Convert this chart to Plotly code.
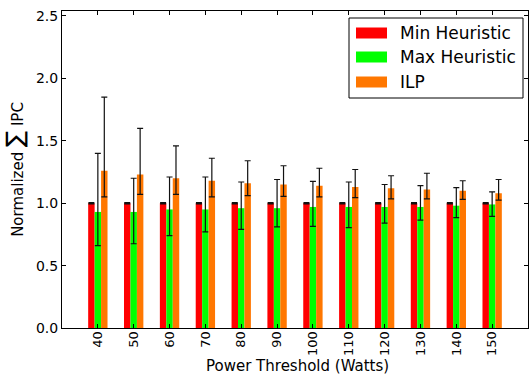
import plotly.graph_objects as go

# Power thresholds (Watts)
thresholds = [40, 50, 60, 70, 80, 90, 100, 110, 120, 130, 140, 150]

# Normalized sum of IPC per policy, with upper / lower error bounds
min_vals = [1.0, 1.0, 1.0, 1.0, 1.0, 1.0, 1.0, 1.0, 1.0, 1.0, 1.0, 1.0]
min_err = [0.005, 0.005, 0.005, 0.005, 0.005, 0.005, 0.005, 0.005, 0.005, 0.005, 0.005, 0.005]

max_vals = [0.93, 0.93, 0.95, 0.95, 0.96, 0.96, 0.97, 0.97, 0.97, 0.97, 0.98, 0.99]
max_hi = [1.40, 1.20, 1.21, 1.21, 1.17, 1.19, 1.175, 1.17, 1.15, 1.14, 1.125, 1.09]
max_lo = [0.66, 0.675, 0.74, 0.77, 0.79, 0.81, 0.815, 0.805, 0.84, 0.865, 0.885, 0.895]

ilp_vals = [1.26, 1.23, 1.20, 1.18, 1.16, 1.15, 1.14, 1.13, 1.12, 1.11, 1.10, 1.08]
ilp_hi = [1.85, 1.60, 1.46, 1.36, 1.34, 1.30, 1.28, 1.27, 1.22, 1.24, 1.18, 1.19]
ilp_lo = [1.05, 1.07, 1.07, 1.05, 1.06, 1.055, 1.05, 1.045, 1.035, 1.035, 1.03, 1.025]

series_names = ["Min Heuristic", "Max Heuristic", "ILP"]
series_colors = ["#ff0000", "#00ff00", "#ff7700"]

W, H = 529, 376
M_L, M_R, M_T, M_B = 62, 1, 11, 48
FONT = "DejaVu Sans"

xpos = list(range(len(thresholds)))


def err(vals, hi, lo):
    up = [h - v for v, h in zip(vals, hi)]
    down = [v - l for v, l in zip(vals, lo)]
    return dict(type="data", symmetric=False, array=up, arrayminus=down,
                color="#111111", thickness=1.2, width=3)


fig = go.Figure()
fig.add_trace(go.Bar(x=xpos, y=min_vals, name=series_names[0],
                     marker=dict(color=series_colors[0], line=dict(width=0)),
                     error_y=dict(type="data", array=min_err, color="#111111",
                                  thickness=1.2, width=3)))
fig.add_trace(go.Bar(x=xpos, y=max_vals, name=series_names[1],
                     marker=dict(color=series_colors[1], line=dict(width=0)),
                     error_y=err(max_vals, max_hi, max_lo)))
fig.add_trace(go.Bar(x=xpos, y=ilp_vals, name=series_names[2],
                     marker=dict(color=series_colors[2], line=dict(width=0)),
                     error_y=err(ilp_vals, ilp_hi, ilp_lo)))

# pixel -> paper coordinate helpers
pw = W - M_L - M_R
ph = H - M_T - M_B


def px(xp):
    return (xp - M_L) / pw


def py(yp):
    return (H - M_B - yp) / ph


# legend drawn as a boxed key in the upper-right corner
shapes = [dict(type="rect", xref="paper", yref="paper",
               x0=px(349), x1=px(523), y0=py(98), y1=py(18),
               line=dict(color="#000000", width=1), fillcolor="white", layer="above")]
annotations = []
row_y = [33, 57, 82]
for name, col, yc in zip(series_names, series_colors, row_y):
    shapes.append(dict(type="rect", xref="paper", yref="paper",
                       x0=px(356), x1=px(387), y0=py(yc + 5.5), y1=py(yc - 5.5),
                       line=dict(width=0), fillcolor=col, layer="above"))
    annotations.append(dict(xref="paper", yref="paper", x=px(398), y=py(yc),
                            text=name, showarrow=False, xanchor="left", yanchor="middle",
                            font=dict(family=FONT, size=17, color="#000000")))

# x-axis title placed below the rotated tick labels
annotations.append(dict(xref="paper", yref="paper", x=px(297), y=py(376),
                        text="Power Threshold (Watts)", showarrow=False,
                        xanchor="center", yanchor="bottom", borderpad=0,
                        font=dict(family=FONT, size=15, color="#000000")))

fig.update_layout(
    width=W, height=H,
    margin=dict(l=M_L, r=M_R, t=M_T, b=M_B, pad=0, autoexpand=False),
    paper_bgcolor="white", plot_bgcolor="white",
    barmode="group", bargap=0.46, bargroupgap=0,
    showlegend=False,
    font=dict(family=FONT, size=15, color="#000000"),
    shapes=shapes, annotations=annotations,
    xaxis=dict(range=[-1, 12], tickvals=xpos, ticktext=[str(t) for t in thresholds],
               tickangle=-90, ticks="inside", ticklen=4, tickcolor="#000000",
               tickfont=dict(family=FONT, size=13), ticklabelstandoff=-3,
               showline=True, linecolor="#000000", linewidth=1, mirror="ticks",
               showgrid=False, zeroline=False, automargin=False),
    yaxis=dict(range=[0, 2.54], tickvals=[0, 0.5, 1.0, 1.5, 2.0, 2.5], tickformat=".1f",
               ticks="inside", ticklen=4, tickcolor="#000000",
               tickfont=dict(family=FONT, size=14),
               showline=True, linecolor="#000000", linewidth=1, mirror="ticks",
               showgrid=False, zeroline=False, automargin=False,
               title=dict(text="Normalized <span style='font-size:24px'>∑</span> IPC",
                          standoff=8, font=dict(family=FONT, size=15))),
)

fig.write_html("out.html")
